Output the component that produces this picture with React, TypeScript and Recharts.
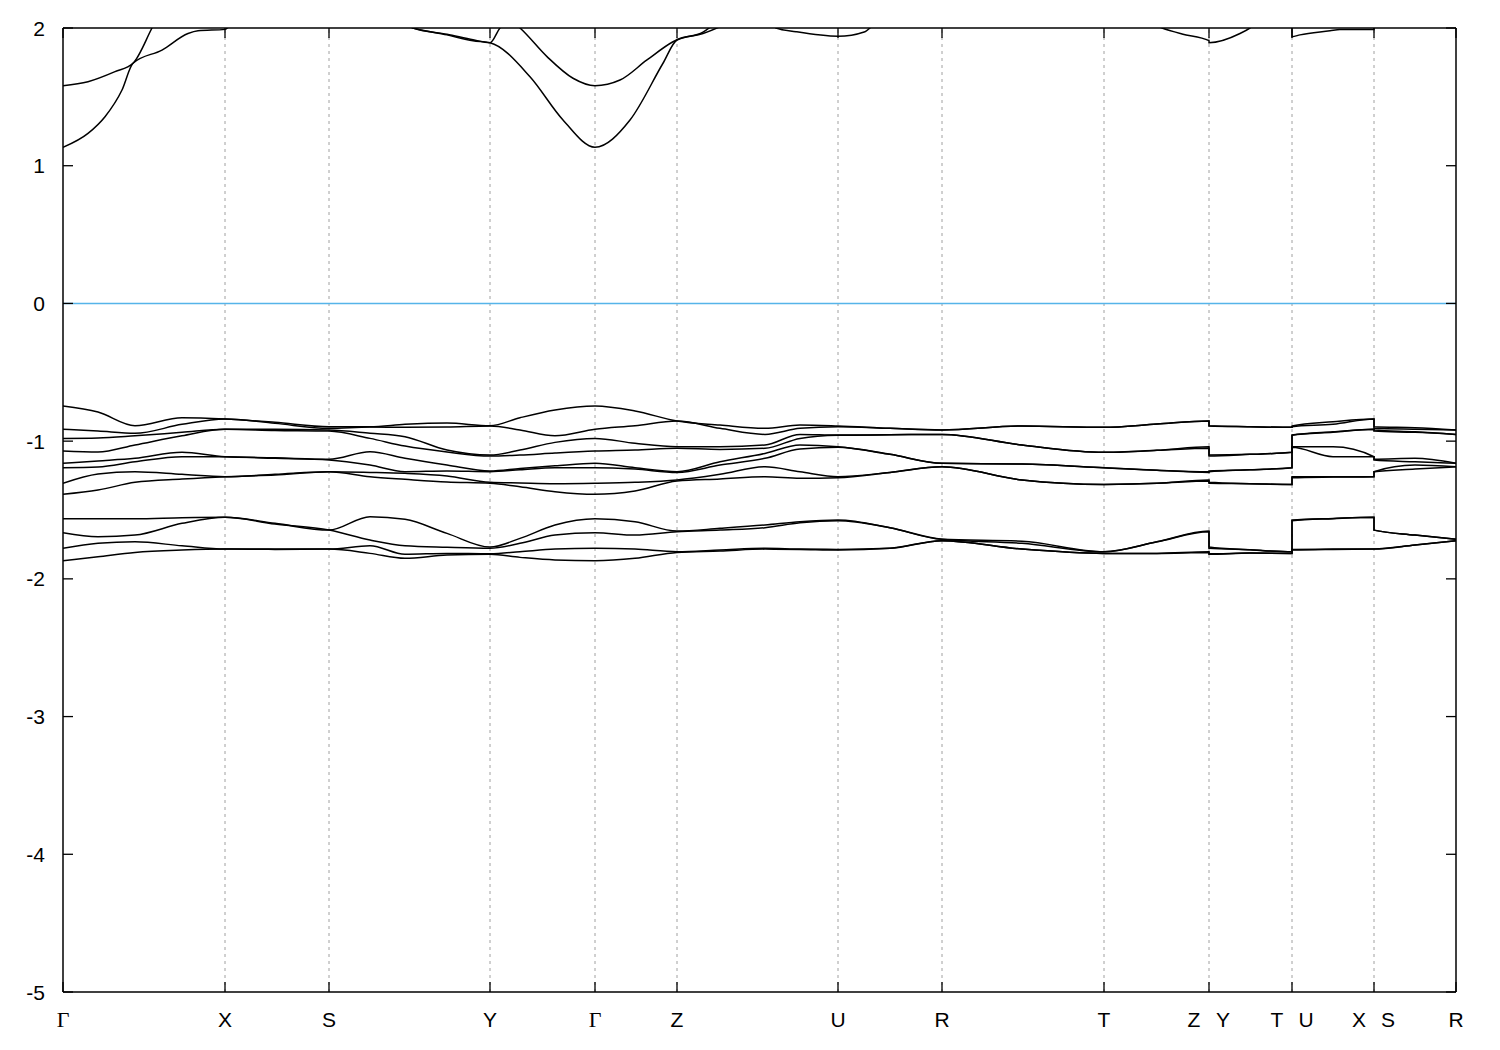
import React from "react";
import { LineChart, Line, XAxis, YAxis, ReferenceLine } from "recharts";

// High-symmetry path positions (k, arbitrary path-length units) and labels
const symK = [0, 1.62, 2.66, 4.27, 5.32, 6.14, 7.75, 8.79, 10.41, 11.46, 12.29, 13.11, 13.93];
const symLabels = ["Γ", "X", "S", "Y", "Γ", "Z", "U", "R", "T", "Z|Y", "T|U", "X|S", "R"];
const energyTicks = [-5, -4, -3, -2, -1, 0, 1, 2];

// k sampling for valence bands (duplicates = path discontinuities)
const kPath = [0, 0.35, 0.72, 1.19, 1.62, 2.12, 2.66, 3.07, 3.42, 3.84, 4.27, 4.57, 4.92, 5.32, 5.72, 6.14, 6.57, 7.02, 7.37, 7.75, 8.27, 8.79, 9.59, 10.41, 10.94, 11.46, 11.46, 11.87, 12.29, 12.29, 12.7, 13.11, 13.11, 13.52, 13.93];

const v1 = [-0.745, -0.789, -0.888, -0.83, -0.839, -0.863, -0.895, -0.895, -0.878, -0.869, -0.888, -0.83, -0.774, -0.745, -0.781, -0.854, -0.883, -0.907, -0.883, -0.89, -0.907, -0.919, -0.89, -0.9, -0.876, -0.854, -0.888, -0.895, -0.9, -0.89, -0.859, -0.839, -0.895, -0.903, -0.919];
const v2 = [-0.914, -0.927, -0.943, -0.878, -0.839, -0.871, -0.907, -0.898, -0.9, -0.898, -0.89, -0.919, -0.961, -0.914, -0.888, -0.854, -0.907, -0.951, -0.907, -0.895, -0.907, -0.919, -0.89, -0.9, -0.876, -0.854, -0.89, -0.895, -0.9, -0.895, -0.878, -0.839, -0.907, -0.914, -0.919];
const v3 = [-0.98, -0.977, -0.961, -0.936, -0.914, -0.914, -0.919, -0.943, -0.968, -1.065, -1.101, -1.065, -1.009, -0.98, -1.016, -1.041, -1.041, -1.028, -0.951, -0.956, -0.954, -0.951, -1.028, -1.081, -1.067, -1.041, -1.101, -1.096, -1.081, -0.956, -0.932, -0.914, -0.919, -0.932, -0.951];
const v4 = [-1.072, -1.079, -1.028, -0.961, -0.914, -0.922, -0.927, -0.98, -1.036, -1.079, -1.108, -1.101, -1.086, -1.072, -1.065, -1.052, -1.06, -1.052, -0.98, -0.958, -0.954, -0.951, -1.028, -1.081, -1.067, -1.052, -1.108, -1.096, -1.081, -0.958, -0.936, -0.914, -0.927, -0.936, -0.951];
const v5 = [-1.161, -1.144, -1.125, -1.081, -1.113, -1.121, -1.132, -1.077, -1.125, -1.174, -1.217, -1.198, -1.179, -1.161, -1.193, -1.222, -1.15, -1.089, -1.028, -1.041, -1.096, -1.161, -1.166, -1.193, -1.212, -1.222, -1.217, -1.208, -1.193, -1.041, -1.041, -1.113, -1.132, -1.125, -1.161];
const v6 = [-1.193, -1.188, -1.15, -1.113, -1.113, -1.125, -1.137, -1.174, -1.222, -1.217, -1.222, -1.208, -1.193, -1.193, -1.203, -1.227, -1.174, -1.125, -1.057, -1.045, -1.096, -1.161, -1.166, -1.193, -1.212, -1.227, -1.222, -1.208, -1.193, -1.045, -1.113, -1.113, -1.137, -1.15, -1.161];
const v7 = [-1.306, -1.239, -1.222, -1.241, -1.258, -1.241, -1.222, -1.227, -1.234, -1.253, -1.299, -1.304, -1.309, -1.306, -1.299, -1.282, -1.241, -1.186, -1.222, -1.258, -1.227, -1.186, -1.282, -1.314, -1.306, -1.282, -1.299, -1.309, -1.314, -1.258, -1.258, -1.258, -1.222, -1.174, -1.186];
const v8 = [-1.386, -1.355, -1.299, -1.275, -1.258, -1.246, -1.222, -1.258, -1.277, -1.297, -1.306, -1.331, -1.367, -1.386, -1.362, -1.29, -1.275, -1.258, -1.27, -1.266, -1.227, -1.186, -1.282, -1.314, -1.306, -1.29, -1.306, -1.309, -1.314, -1.266, -1.261, -1.258, -1.222, -1.203, -1.186];
const w1 = [-1.563, -1.563, -1.563, -1.556, -1.553, -1.597, -1.646, -1.549, -1.568, -1.67, -1.769, -1.706, -1.609, -1.563, -1.585, -1.653, -1.633, -1.609, -1.585, -1.573, -1.629, -1.713, -1.727, -1.803, -1.731, -1.653, -1.769, -1.789, -1.803, -1.573, -1.561, -1.553, -1.646, -1.682, -1.713];
const w2 = [-1.665, -1.694, -1.682, -1.597, -1.553, -1.602, -1.646, -1.718, -1.76, -1.771, -1.778, -1.742, -1.682, -1.665, -1.682, -1.658, -1.646, -1.629, -1.593, -1.578, -1.629, -1.713, -1.742, -1.803, -1.731, -1.658, -1.778, -1.789, -1.803, -1.578, -1.563, -1.553, -1.646, -1.682, -1.713];
const w3 = [-1.778, -1.742, -1.731, -1.76, -1.784, -1.784, -1.784, -1.76, -1.822, -1.815, -1.818, -1.803, -1.784, -1.778, -1.784, -1.803, -1.791, -1.778, -1.784, -1.786, -1.778, -1.723, -1.784, -1.815, -1.815, -1.803, -1.818, -1.813, -1.815, -1.786, -1.784, -1.784, -1.784, -1.754, -1.723];
const w4 = [-1.868, -1.839, -1.808, -1.791, -1.784, -1.786, -1.784, -1.815, -1.851, -1.827, -1.822, -1.844, -1.863, -1.868, -1.851, -1.808, -1.798, -1.784, -1.786, -1.791, -1.778, -1.723, -1.784, -1.815, -1.815, -1.808, -1.822, -1.813, -1.815, -1.791, -1.786, -1.784, -1.784, -1.754, -1.723];

// Conduction bands (values above 2 are clipped by the axis range)
const c1K = [0, 0.25, 0.42, 0.59, 0.7, 0.99, 1.25, 1.35, 1.62, 1.75, 2.66, 3.37, 3.5, 3.84, 4.1, 4.27, 4.67, 5.0, 5.32, 5.67, 6.0, 6.14, 6.4, 6.6, 7.0, 7.13, 7.33, 7.75, 8.02, 8.07, 8.3, 8.79, 10.41, 10.99, 11.19, 11.46, 11.46, 11.77, 11.87, 12.1, 12.29, 12.29, 12.37, 12.67, 12.77, 13.11, 13.11, 13.93];
const c1E = [1.134, 1.235, 1.356, 1.55, 1.744, 1.84, 1.96, 1.98, 1.99, 2.1, 2.4, 2.03, 2.0, 1.95, 1.908, 1.893, 1.646, 1.332, 1.134, 1.332, 1.744, 1.913, 1.96, 2.02, 2.2, 2.0, 1.973, 1.94, 1.973, 2.0, 2.15, 2.3, 2.2, 2.0, 1.957, 1.908, 1.893, 1.96, 2.0, 2.15, 2.2, 1.937, 1.95, 1.98, 1.99, 1.99, 2.3, 2.3];
const c2K = [0, 0.25, 0.52, 0.7, 0.89, 1.1, 1.62, 2.66, 3.42, 3.5, 3.84, 4.1, 4.27, 4.37, 4.47, 4.57, 4.84, 5.1, 5.32, 5.57, 5.84, 6.1, 6.14, 6.4, 6.55, 7.0, 13.93];
const c2E = [1.581, 1.61, 1.683, 1.744, 2.0, 2.3, 2.02, 2.5, 2.05, 2.0, 1.955, 1.915, 1.893, 2.0, 2.06, 2.0, 1.792, 1.635, 1.581, 1.622, 1.768, 1.9, 1.915, 1.97, 2.05, 2.3, 2.3];

const valenceBands = [v1, v2, v3, v4, v5, v6, v7, v8, w1, w2, w3, w4];
const seriesData = [
  ...valenceBands.map((b) => kPath.map((k, i) => ({ k, e: b[i] }))),
  c1K.map((k, i) => ({ k, e: c1E[i] })),
  c2K.map((k, i) => ({ k, e: c2E[i] })),
];

const W = 1484;
const H = 1034;
const PL = 55;
const PR = 1448;
const PT = 20;
const PB = 984;
const FONT = "'Liberation Sans', Arial, Helvetica, sans-serif";

function XTick(props: any) {
  const { x, payload } = props;
  const idx = symK.indexOf(payload.value);
  const lab = idx >= 0 ? symLabels[idx] : "";
  const parts = lab.split("|");
  const base = 1019;
  const renderLabel = (s: string, dx: number, key: string) => (
    <text
      key={key}
      x={x + dx}
      y={base}
      textAnchor="middle"
      fill="#000"
      fontSize={s === "Γ" ? 22 : 21}
      fontFamily={s === "Γ" ? "'Liberation Serif', 'Times New Roman', serif" : FONT}
    >
      {s}
    </text>
  );
  return (
    <g>
      <line x1={x} x2={x} y1={PT} y2={PT + 10} stroke="#000" strokeWidth={1.3} />
      <line x1={x} x2={x} y1={PB - 10} y2={PB} stroke="#000" strokeWidth={1.3} />
      {parts.length === 2
        ? [renderLabel(parts[0], -15, "a"), renderLabel(parts[1], 14, "b")]
        : renderLabel(lab, 0, "a")}
    </g>
  );
}

function YTick(props: any) {
  const { y, payload } = props;
  return (
    <g>
      <line x1={PL} x2={PL + 10} y1={y} y2={y} stroke="#000" strokeWidth={1.3} />
      <line x1={PR - 10} x2={PR} y1={y} y2={y} stroke="#000" strokeWidth={1.3} />
      <text x={37} y={y + 7.5} textAnchor="end" fill="#000" fontSize={21} fontFamily={FONT}>
        {String(payload.value)}
      </text>
    </g>
  );
}

export default function App() {
  return (
    <div style={{ width: W, height: H }}>
      <LineChart width={W} height={H} margin={{ top: PT, right: W - PR, left: 0, bottom: 0 }}>
        <XAxis
          type="number"
          dataKey="k"
          domain={[0, 13.93]}
          allowDataOverflow
          ticks={symK}
          interval={0}
          axisLine={false}
          tickLine={false}
          height={H - PB}
          tick={<XTick />}
        />
        <YAxis
          type="number"
          domain={[-5, 2]}
          allowDataOverflow
          ticks={energyTicks}
          interval={0}
          axisLine={false}
          tickLine={false}
          width={PL}
          tick={<YTick />}
        />
        {symK.slice(1, -1).map((k, i) => (
          <ReferenceLine key={"g" + i} x={k} stroke="#a0a0a0" strokeWidth={1} strokeDasharray="3 4" />
        ))}
        <ReferenceLine y={0} stroke="#56B4E9" strokeWidth={1.5} />
        {seriesData.map((d, i) => (
          <Line
            key={"b" + i}
            data={d}
            dataKey="e"
            type="monotone"
            stroke="#000"
            strokeWidth={1.5}
            dot={false}
            activeDot={false}
            isAnimationActive={false}
          />
        ))}
        <ReferenceLine x={0} stroke="#000" strokeWidth={1.5} />
        <ReferenceLine x={13.93} stroke="#000" strokeWidth={1.5} />
        <ReferenceLine y={2} stroke="#000" strokeWidth={1.5} />
        <ReferenceLine y={-5} stroke="#000" strokeWidth={1.5} />
      </LineChart>
    </div>
  );
}
